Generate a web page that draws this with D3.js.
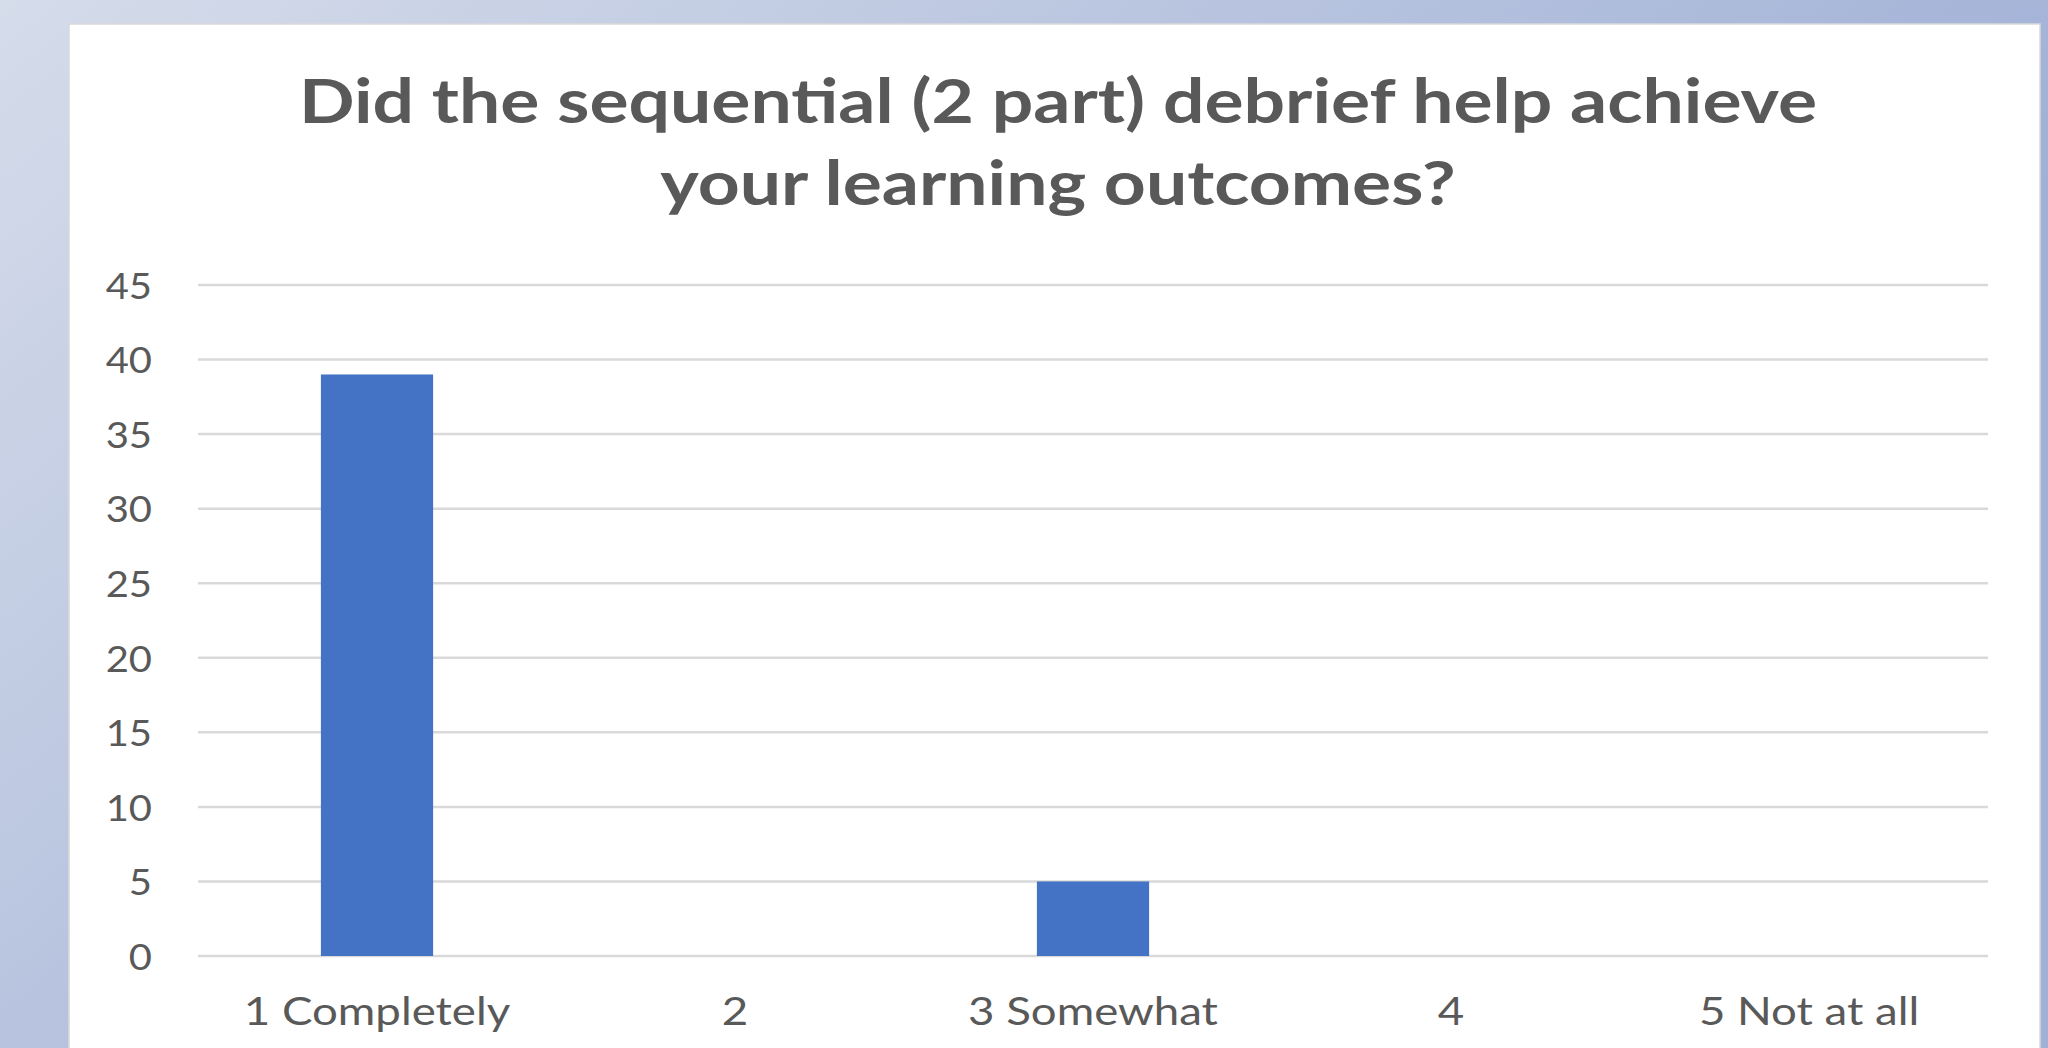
<!DOCTYPE html>
<html>
<head>
<meta charset="utf-8">
<script src="https://cdn.jsdelivr.net/npm/d3@7"></script>
<style>
  html, body { margin: 0; padding: 0; overflow: hidden; }
  svg { display: block; }
</style>
</head>
<body>
<div id="chart"></div>
<script>
const titleLines = ["Did the sequential (2 part) debrief help achieve", "your learning outcomes?"];
const categories = ["1 Completely", "2", "3 Somewhat", "4", "5 Not at all"];
const counts = [39, 0, 5, 0, 0];
const yTicks = [0, 5, 10, 15, 20, 25, 30, 35, 40, 45];

const width = 2048;
const height = 1048;
const font = "Lato, 'Open Sans', sans-serif";

// the source picture is a bit stretched sideways, so text gets widened
function stretch(sel, factor) {
    sel.each(function () {
        const w = this.getComputedTextLength();
        d3.select(this)
            .attr("textLength", w * factor)
            .attr("lengthAdjust", "spacingAndGlyphs");
    });
}

const svg = d3.select("#chart")
    .append("svg")
    .attr("width", width)
    .attr("height", height);

// background gradient behind the white chart panel
const defs = svg.append("defs");
const grad = defs.append("linearGradient")
    .attr("id", "bg")
    .attr("gradientUnits", "userSpaceOnUse")
    .attr("x1", 0).attr("y1", 0)
    .attr("x2", 937).attr("y2", 1120);
grad.append("stop").attr("offset", 0).attr("stop-color", "#d5dcea");
grad.append("stop").attr("offset", 1).attr("stop-color", "#a0b0d6");

svg.append("rect")
    .attr("width", width)
    .attr("height", height)
    .attr("fill", "url(#bg)");

svg.append("rect")
    .attr("x", 69)
    .attr("y", 24)
    .attr("width", 2040 - 69)
    .attr("height", height)
    .attr("fill", "#ffffff")
    .attr("stroke", "#d9d9d9")
    .attr("stroke-width", 1.5);

// title
const title = svg.append("g");
titleLines.forEach((line, i) => {
    title.append("text")
        .attr("x", 1058)
        .attr("y", 123 + i * 82)
        .attr("text-anchor", "middle")
        .attr("font-family", font)
        .attr("font-weight", "bold")
        .attr("font-size", 61)
        .attr("fill", "#595959")
        .text(line);
});
stretch(title.selectAll("text"), 1.2);

// scales
const margin = { left: 198, right: 1988, top: 285, bottom: 956 };

const xScale = d3.scaleBand()
    .domain(categories)
    .range([margin.left, margin.right])
    .padding(0);

const yScale = d3.scaleLinear()
    .domain([0, 45])
    .range([margin.bottom, margin.top]);

// gridlines
svg.append("g")
    .selectAll("line")
    .data(yTicks)
    .join("line")
    .attr("x1", margin.left)
    .attr("x2", margin.right)
    .attr("y1", (d) => yScale(d))
    .attr("y2", (d) => yScale(d))
    .attr("stroke", "#d9d9d9")
    .attr("stroke-width", 2.5);

// bars (gap width ~219%)
const barW = xScale.bandwidth() / 3.19;

svg.append("g")
    .selectAll("rect")
    .data(categories.map((c, i) => ({ cat: c, value: counts[i] })))
    .join("rect")
    .attr("x", (d) => xScale(d.cat) + xScale.bandwidth() / 2 - barW / 2)
    .attr("y", (d) => yScale(d.value))
    .attr("width", barW)
    .attr("height", (d) => yScale(0) - yScale(d.value))
    .attr("fill", "#4472c4");

// y axis labels
const yAxis = d3.axisLeft(yScale).tickValues(yTicks).tickSize(0).tickPadding(0);
const yG = svg.append("g")
    .attr("transform", "translate(152,0)")
    .call(yAxis);
yG.select(".domain").remove();
yG.selectAll("text")
    .attr("font-family", font)
    .attr("font-size", 37)
    .attr("fill", "#595959")
    .attr("dy", "0.36em");
stretch(yG.selectAll("text"), 1.08);

// x axis labels
const xAxis = d3.axisBottom(xScale).tickSize(0).tickPadding(0);
const xG = svg.append("g")
    .attr("transform", "translate(0,1025)")
    .call(xAxis);
xG.select(".domain").remove();
xG.selectAll("text")
    .attr("font-family", font)
    .attr("font-size", 38)
    .attr("fill", "#595959")
    .attr("dy", 0)
    .attr("y", 0);
stretch(xG.selectAll("text"), 1.2);
</script>
</body>
</html>
